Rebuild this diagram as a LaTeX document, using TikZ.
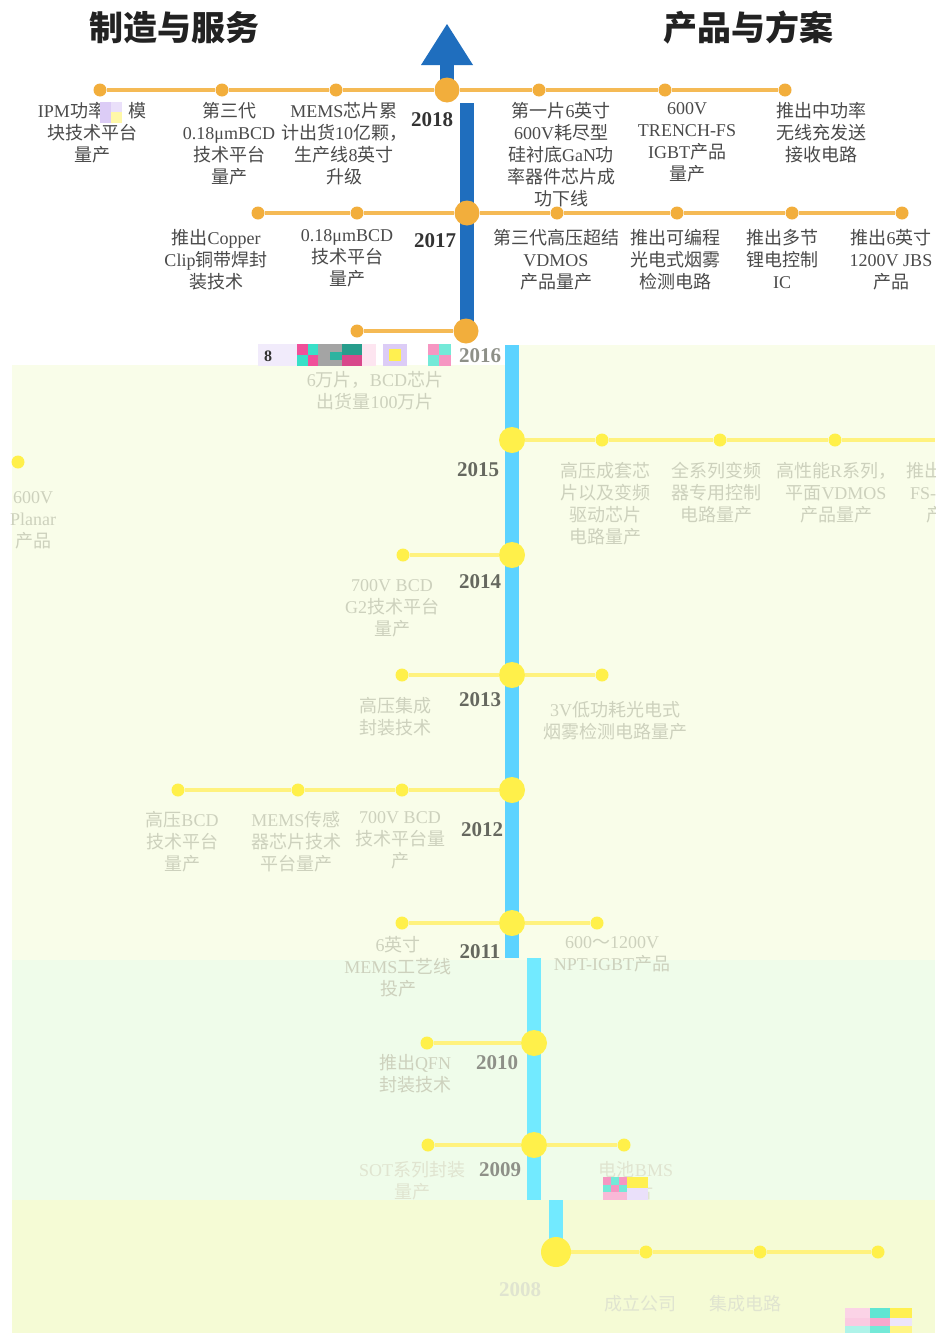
\documentclass[tikz,border=0pt]{standalone}
\usepackage{fontspec}
\setmainfont{Liberation Serif}
\newfontfamily\cjk{Noto Sans CJK SC}
\newcommand\zh[1]{{\cjk #1}}
\definecolor{axisblue}{HTML}{1F6EBE}
\definecolor{ltblue}{HTML}{5CD3FF}
\definecolor{cyanb}{HTML}{72EAFF}
\definecolor{orng}{HTML}{F2AE3C}
\definecolor{orline}{HTML}{F5BA55}
\definecolor{ydot}{HTML}{FFF04A}
\definecolor{yline}{HTML}{FFF27E}
\definecolor{labgray}{HTML}{4A4A4A}
\definecolor{yeartext}{HTML}{333333}
\definecolor{titletext}{HTML}{222222}
\definecolor{fade}{HTML}{CDD1BD}
\definecolor{fader}{HTML}{E0E4D0}
\definecolor{yearfade}{HTML}{66685F}
\definecolor{yearfadeb}{HTML}{8E9088}
\definecolor{cream}{HTML}{F9FDE9}
\definecolor{mint}{HTML}{EFFCEA}
\definecolor{lemon}{HTML}{F5FBD5}
\definecolor{gpink}{HTML}{F0509A}
\definecolor{gcyan}{HTML}{38E0C8}
\definecolor{glav}{HTML}{DCCCF6}
\definecolor{gyel}{HTML}{FFF050}
\definecolor{ggray}{HTML}{A4A4A4}
\begin{document}
\begin{tikzpicture}[x=1pt,y=-1pt,
  odot/.style={circle,fill=orng,inner sep=0pt,minimum size=13pt},
  obig/.style={circle,fill=orng,inner sep=0pt,minimum size=25pt},
  ydt/.style={circle,fill=ydot,inner sep=0pt,minimum size=13pt},
  ybig/.style={circle,fill=ydot,inner sep=0pt,minimum size=26pt},
  oline/.style={draw=orline,line width=3.5pt},
  yln/.style={draw=yline,line width=4pt},
  lab/.style={anchor=north,align=center,inner sep=0pt,text=labgray,font=\fontsize{18}{22}\selectfont},
  flab/.style={lab,text=fade},
  fflab/.style={lab,text=fader},
  yr/.style={inner sep=0pt,font=\bfseries\fontsize{21}{24}\selectfont,text=yeartext},
  fyr/.style={yr,text=yearfade},
  fyrb/.style={yr,text=yearfadeb},
  ttl/.style={inner sep=0pt,font=\cjk\bfseries\fontsize{34}{38}\selectfont,text=titletext}]
\useasboundingbox (0,0) rectangle (935,1336);
% backgrounds
\fill[white] (0,0) rectangle (935,1336);
\fill[cream] (12,365) rectangle (935,960);
\fill[cream] (505,345) rectangle (935,365);
\fill[mint] (12,960) rectangle (935,1200);
\fill[lemon] (12,1200) rectangle (935,1333);
% titles
\node[ttl] (t1) at (174,28) {制造与服务};
\node[ttl] (t2) at (748,28) {产品与方案};
% axis
\fill[axisblue] (421,65) -- (447,24) -- (473,65) -- cycle;
\fill[axisblue] (440,64) rectangle (454,90);
\fill[axisblue] (460,103) rectangle (474,331);
\fill[ltblue] (505,345) rectangle (519,958);
\fill[cyanb] (527,958) rectangle (541,1200);
\fill[cyanb] (549,1200) rectangle (563,1240);
% ---- 2018
\node[odot] (a1) at (100,90) {};
\node[odot] (a2) at (222,90) {};
\node[odot] (a3) at (336,90) {};
\node[obig] (a4) at (447,90) {};
\node[odot] (a5) at (539,90) {};
\node[odot] (a6) at (665,90) {};
\node[odot] (a7) at (785,90) {};
\draw[oline] (a1) -- (a2) -- (a3) -- (a4) -- (a5) -- (a6) -- (a7);
\node[lab] (la1) at (92,102) {IPM\zh{功率}\hspace{22pt}\zh{模}\\\zh{块技术平台}\\\zh{量产}};
\fill[glav] (100,102) rectangle (111,112);
\fill[glav!60] (111,102) rectangle (122,112);
\fill[glav] (100,112) rectangle (111,123);
\fill[gyel!50] (111,112) rectangle (122,123);
\node[lab] (la2) at (229,102) {\zh{第三代}\\0.18μmBCD\\\zh{技术平台}\\\zh{量产}};
\node[lab] (la3) at (344,102) {MEMS\zh{芯片累}\\\zh{计出货}10\zh{亿颗，}\\\zh{生产线}8\zh{英寸}\\\zh{升级}};
\node[yr] (y18) at (432,120) {2018};
\node[lab] (la5) at (561,102) {\zh{第一片}6\zh{英寸}\\600V\zh{耗尽型}\\\zh{硅衬底}GaN\zh{功}\\\zh{率器件芯片成}\\\zh{功下线}};
\node[lab] (la6) at (687,102) {600V\\TRENCH-FS\\IGBT\zh{产品}\\\zh{量产}};
\node[lab] (la7) at (821,102) {\zh{推出中功率}\\\zh{无线充发送}\\\zh{接收电路}};
% ---- 2017
\node[odot] (b1) at (258,213) {};
\node[odot] (b2) at (357,213) {};
\node[obig] (b3) at (467,213) {};
\node[odot] (b4) at (557,213) {};
\node[odot] (b5) at (677,213) {};
\node[odot] (b6) at (792,213) {};
\node[odot] (b7) at (902,213) {};
\draw[oline] (b1) -- (b2) -- (b3) -- (b4) -- (b5) -- (b6) -- (b7);
\node[lab] (lb1) at (216,229) {\zh{推出}Copper\\Clip\zh{铜带焊封}\\\zh{装技术}};
\node[lab] (lb2) at (347,229) {0.18μmBCD\\\zh{技术平台}\\\zh{量产}};
\node[yr] (y17) at (435,241) {2017};
\node[lab] (lb4) at (556,229) {\zh{第三代高压超结}\\VDMOS\\\zh{产品量产}};
\node[lab] (lb5) at (675,229) {\zh{推出可编程}\\\zh{光电式烟雾}\\\zh{检测电路}};
\node[lab] (lb6) at (782,229) {\zh{推出多节}\\\zh{锂电控制}\\IC};
\node[lab] (lb7) at (891,229) {\zh{推出}6\zh{英寸}\\1200V JBS\\\zh{产品}};
% ---- 2016
\node[odot] (c1) at (357,331) {};
\node[obig] (c2) at (466,331) {};
\draw[oline] (c1) -- (c2);
% glitch strip
\fill[glav!40] (258,344) rectangle (297,366);
\fill[gpink] (297,344) rectangle (308,355);
\fill[gcyan] (308,344) rectangle (318,355);
\fill[gcyan] (297,355) rectangle (308,366);
\fill[gpink] (308,355) rectangle (318,366);
\fill[ggray] (318,344) rectangle (342,366);
\fill[gcyan!80!black] (330,352) rectangle (342,360);
\fill[gcyan!70!black] (342,344) rectangle (362,355);
\fill[gpink!90!black] (342,355) rectangle (362,366);
\fill[gpink!15] (362,344) rectangle (376,366);
\fill[glav] (383,344) rectangle (407,366);
\fill[gyel] (389,349) rectangle (401,361);
\fill[gpink!60] (428,344) rectangle (439,355);
\fill[gcyan!70] (439,344) rectangle (451,355);
\fill[gcyan!70] (428,355) rectangle (439,366);
\fill[gpink!60] (439,355) rectangle (451,366);
\node[inner sep=0pt,font=\bfseries\fontsize{16}{18}\selectfont,text=black!80] (g8) at (268,356) {8};
\node[fyrb] (y16) at (480,356) {2016};
\node[flab] (lc1) at (375,371) {6\zh{万片，}BCD\zh{芯片}\\\zh{出货量}100\zh{万片}};
% ---- 2015
\node[ybig] (d1) at (512,440) {};
\node[ydt] (d2) at (602,440) {};
\node[ydt] (d3) at (720,440) {};
\node[ydt] (d4) at (835,440) {};
\coordinate (d5) at (935,440);
\draw[yln] (d1) -- (d2) -- (d3) -- (d4) -- (d5);
\node[ydt] (d0) at (18,462) {};
\node[fyr] (y15) at (478,470) {2015};
\node[flab] (ld2) at (605,462) {\zh{高压成套芯}\\\zh{片以及变频}\\\zh{驱动芯片}\\\zh{电路量产}};
\node[flab] (ld3) at (716,462) {\zh{全系列变频}\\\zh{器专用控制}\\\zh{电路量产}};
\node[flab] (ld4) at (836,462) {\zh{高性能}R\zh{系列，}\\\zh{平面}VDMOS\\\zh{产品量产}};
\node[flab] (ld5) at (944,462) {\zh{推出}600V\\FS-IGBT\\\zh{产品}};
\node[flab] (ld0) at (33,491) {600V\\Planar\\\zh{产品}};
% ---- 2014
\node[ydt] (e1) at (403,555) {};
\node[ybig] (e2) at (512,555) {};
\draw[yln] (e1) -- (e2);
\node[fyr] (y14) at (480,582) {2014};
\node[flab] (le1) at (392,579) {700V BCD\\G2\zh{技术平台}\\\zh{量产}};
% ---- 2013
\node[ydt] (f1) at (402,675) {};
\node[ybig] (f2) at (512,675) {};
\node[ydt] (f3) at (602,675) {};
\draw[yln] (f1) -- (f2) -- (f3);
\node[fyr] (y13) at (480,700) {2013};
\node[flab] (lf1) at (395,697) {\zh{高压集成}\\\zh{封装技术}};
\node[flab] (lf3) at (615,701) {3V\zh{低功耗光电式}\\\zh{烟雾检测电路量产}};
% ---- 2012
\node[ydt] (g1) at (178,790) {};
\node[ydt] (g2) at (298,790) {};
\node[ydt] (g3) at (402,790) {};
\node[ybig] (g4) at (512,790) {};
\draw[yln] (g1) -- (g2) -- (g3) -- (g4);
\node[fyr] (y12) at (482,830) {2012};
\node[flab] (lg1) at (182,811) {\zh{高压}BCD\\\zh{技术平台}\\\zh{量产}};
\node[flab] (lg2) at (296,811) {MEMS\zh{传感}\\\zh{器芯片技术}\\\zh{平台量产}};
\node[flab] (lg3) at (400,811) {700V BCD\\\zh{技术平台量}\\\zh{产}};
% ---- 2011
\node[ydt] (h1) at (402,923) {};
\node[ybig] (h2) at (512,923) {};
\node[ydt] (h3) at (597,923) {};
\draw[yln] (h1) -- (h2) -- (h3);
\node[fyr] (y11) at (480,952) {2011};
\node[flab] (lh1) at (398,936) {6\zh{英寸}\\MEMS\zh{工艺线}\\\zh{投产}};
\node[flab] (lh3) at (612,936) {600\zh{～}1200V\\NPT-IGBT\zh{产品}};
% ---- 2010
\node[ydt] (i1) at (427,1043) {};
\node[ybig] (i2) at (534,1043) {};
\draw[yln] (i1) -- (i2);
\node[fyrb] (y10) at (497,1063) {2010};
\node[flab] (li1) at (415,1054) {\zh{推出}QFN\\\zh{封装技术}};
% ---- 2009
\node[ydt] (j1) at (428,1145) {};
\node[ybig] (j2) at (534,1145) {};
\node[ydt] (j3) at (624,1145) {};
\draw[yln] (j1) -- (j2) -- (j3);
\node[fyrb] (y09) at (500,1170) {2009};
\node[fflab] (lj1) at (412,1161) {SOT\zh{系列封装}\\\zh{量产}};
\node[fflab] (lj3) at (636,1161) {\zh{电池}BMS\\\zh{芯片}};
\fill[gpink!60] (603,1177) rectangle (611,1185);
\fill[gcyan!70] (611,1177) rectangle (619,1185);
\fill[gpink!60] (619,1177) rectangle (627,1185);
\fill[gcyan!70] (603,1185) rectangle (611,1192);
\fill[gpink!60] (611,1185) rectangle (619,1192);
\fill[gcyan!70] (619,1185) rectangle (627,1192);
\fill[gpink!40] (603,1192) rectangle (627,1200);
\fill[gyel] (627,1177) rectangle (648,1188);
\fill[glav!60] (627,1188) rectangle (648,1200);
% ---- 2008
\node[ybig,minimum size=30pt] (k1) at (556,1252) {};
\node[ydt] (k2) at (646,1252) {};
\node[ydt] (k3) at (760,1252) {};
\node[ydt] (k4) at (878,1252) {};
\draw[yln] (k1) -- (k2) -- (k3) -- (k4);
\node[yr,text=fader] (y08) at (520,1290) {2008};
\node[fflab] (lk2) at (640,1295) {\zh{成立公司}};
\node[fflab] (lk3) at (745,1295) {\zh{集成电路}};
\fill[gpink!25] (845,1308) rectangle (870,1318);
\fill[gcyan!80] (870,1308) rectangle (890,1318);
\fill[gyel] (890,1308) rectangle (912,1318);
\fill[gpink!30] (845,1318) rectangle (870,1326);
\fill[gpink!50] (870,1318) rectangle (890,1326);
\fill[glav!50] (890,1318) rectangle (912,1326);
\fill[gcyan!40] (845,1326) rectangle (870,1333);
\fill[gcyan!70] (870,1326) rectangle (890,1333);
\fill[gyel!70] (890,1326) rectangle (912,1333);
\end{tikzpicture}
\end{document}
